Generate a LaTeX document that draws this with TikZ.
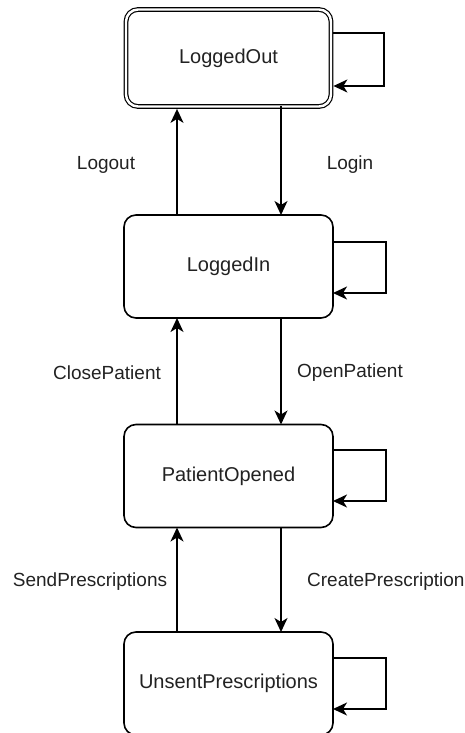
\documentclass[tikz,border=0pt]{standalone}
\usepackage{fontspec}
\setmainfont{Liberation Sans}
\usetikzlibrary{arrows.meta,calc}
\definecolor{txt}{HTML}{222222}
\begin{document}
\begin{tikzpicture}[x=1pt,y=-1pt,
  state/.style={draw=black,line width=1.6pt,rounded corners=12pt,minimum width=209pt,minimum height=103pt,inner sep=0pt,outer sep=0pt,font=\fontsize{20}{24}\selectfont,text=txt},
  startstate/.style={state,double,double distance=2.4pt,line width=1.2pt,minimum width=205pt,minimum height=97pt},
  lbl/.style={font=\fontsize{19}{23}\selectfont,text=txt,inner sep=0pt},
  trans/.style={line width=1.6pt,-{Stealth[length=14pt,width=13pt,inset=4pt]}}
]
\clip (0,0) rectangle (465,733);
\useasboundingbox (0,0) rectangle (465,733);

\node[startstate] (lout) at (228.5,58) {LoggedOut};
\node[state] (lin) at (228.5,266.5) {LoggedIn};
\node[state] (popen) at (228.5,476) {PatientOpened};
\node[state] (unsent) at (228.5,683.5) {UnsentPrescriptions};

\coordinate (lx) at (177,0);
\coordinate (rx) at (281,0);

% vertical transitions
\draw[trans] (lin.north -| lx) -- ($(lout.south -| lx)+(0,2.4)$);
\draw[line width=1.6pt] ($(lout.south -| rx)+(0,2.4)$) -- (rx |- lout.south);
\draw[trans] ($(lout.south -| rx)+(0,2.4)$) -- (lin.north -| rx);
\draw[trans] (popen.north -| lx) -- (lin.south -| lx);
\draw[trans] (lin.south -| rx) -- (popen.north -| rx);
\draw[trans] (unsent.north -| lx) -- (popen.south -| lx);
\draw[trans] (popen.south -| rx) -- (unsent.north -| rx);

% self loops
\draw[trans] ($(lout.east)+(2.4,-25)$) -- ++(50.6,0) |- ($(lout.east)+(2.4,28)$);
\draw[trans] ($(lin.east)+(0,-24.5)$) -- ++(53,0) |- ($(lin.east)+(0,26.5)$);
\draw[trans] ($(popen.east)+(0,-26)$) -- ++(53,0) |- ($(popen.east)+(0,25)$);
\draw[trans] ($(unsent.east)+(0,-25.5)$) -- ++(53,0) |- ($(unsent.east)+(0,25.5)$);

% labels
\node[lbl] (l1) at (106,165) {Logout};
\node[lbl] (l2) at (350,165) {Login};
\node[lbl] (l3) at (107,373) {ClosePatient};
\node[lbl] (l4) at (350,373) {OpenPatient};
\node[lbl] (l5) at (90,582) {SendPrescriptions};
\node[lbl,anchor=west] (l6) at (307,582) {CreatePrescription};
\end{tikzpicture}
\end{document}
